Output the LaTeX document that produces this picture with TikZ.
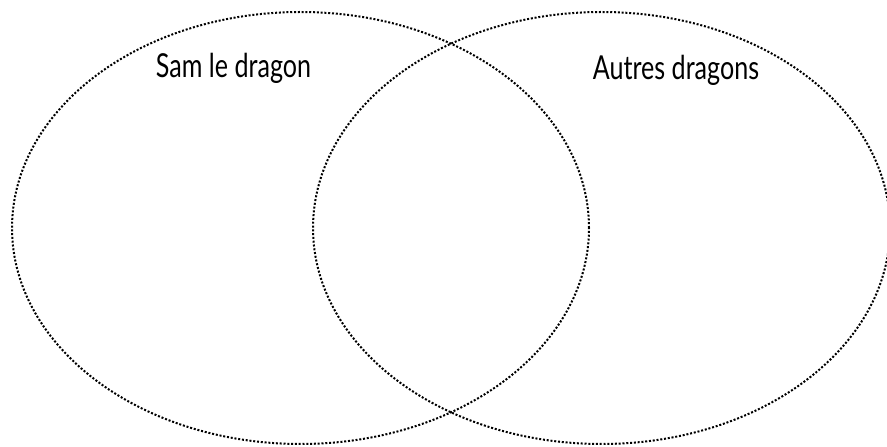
\documentclass[tikz,border=0pt]{standalone}
\usepackage{fontspec}
\setmainfont{Lato}
\usetikzlibrary{shapes.geometric}
\begin{document}
\begin{tikzpicture}[x=1pt,y=1pt,
  venn/.style={ellipse,draw=black,line width=2pt,dash pattern=on 2pt off 1.8pt,inner sep=0pt,minimum width=577pt,minimum height=432pt},
  lbl/.style={inner sep=0pt,anchor=base,font=\fontsize{33}{36}\selectfont,xscale=0.76}]
\useasboundingbox (0,0) rectangle (887,447);
\node[venn] (left) at (300.5,219) {};
\node[venn] (right) at (601.5,219) {};
\node[lbl] (samlbl) at (233.5,369) {Sam le dragon};
\node[lbl] (autreslbl) at (676,367) {Autres dragons};
\end{tikzpicture}
\end{document}
